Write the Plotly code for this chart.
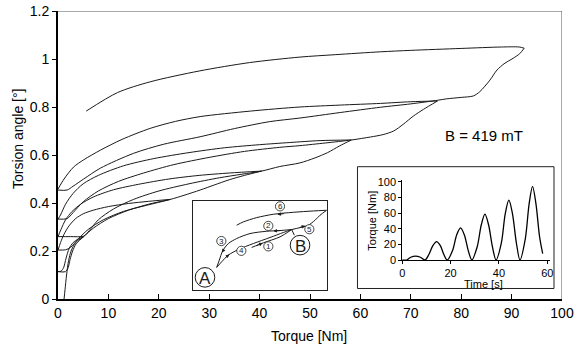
import plotly.graph_objects as go

# ---------------- torsion angle vs torque: loading / unloading branches ----------------
# loading branches (torque rising)
load1_x = [1.2, 1.4, 1.7, 2.1, 2.6, 3.5, 5.1]
load1_y = [0.0, 0.04, 0.10, 0.16, 0.20, 0.235, 0.26]
load2_x = [0, 1.5, 2.0, 2.4, 2.9, 3.6, 5.1, 7, 10, 14, 18, 22.3]
load2_y = [0.114, 0.114, 0.13, 0.165, 0.20, 0.23, 0.26, 0.295, 0.335, 0.37, 0.395, 0.415]
load3_x = [0, 1.5, 2.5, 4, 6, 9, 13, 17.5, 22.3, 25, 28.2, 31, 34, 37, 40.4]
load3_y = [0.204, 0.205, 0.215, 0.25, 0.29, 0.33, 0.365, 0.39, 0.415, 0.432, 0.454, 0.475, 0.497, 0.515, 0.533]
load4_x = [0, 2.5, 5.1, 6.2, 8, 11, 15, 20, 26, 32, 36.5, 40.4, 44, 48, 51, 53.5, 55.8, 58.2]
load4_y = [0.26, 0.26, 0.262, 0.285, 0.33, 0.375, 0.415, 0.45, 0.48, 0.505, 0.52, 0.533, 0.552, 0.567, 0.588, 0.61, 0.637, 0.6625]
load5_x = [0, 1.8, 3, 5, 8, 12, 17, 23, 30, 37, 44, 48, 53, 58.2, 62, 64.5, 66.6, 68.5, 70.5, 72.5, 75.3]
load5_y = [0.333, 0.335, 0.36, 0.405, 0.45, 0.49, 0.525, 0.56, 0.59, 0.615, 0.632, 0.639, 0.65, 0.6625, 0.675, 0.685, 0.70, 0.728, 0.762, 0.79, 0.825]
load6_x = [0, 1.8, 3, 5.1, 8.4, 15, 21, 28.2, 35, 42, 48, 56, 64, 70, 75.3, 77.1, 80, 82.4, 83.7, 85.7, 87.1, 88.5, 90.3, 91.6, 92.5]
load6_y = [0.454, 0.454, 0.47, 0.50, 0.545, 0.607, 0.645, 0.676, 0.71, 0.739, 0.754, 0.777, 0.799, 0.813, 0.828, 0.834, 0.84, 0.846, 0.864, 0.912, 0.954, 0.98, 1.003, 1.022, 1.045]

# unloading branches (torque falling)
unload1_x = [5.1, 4.0, 3.0, 2.2, 1.6, 1.1, 0.6, 0.0]
unload1_y = [0.26, 0.25, 0.235, 0.21, 0.17, 0.13, 0.116, 0.114]
unload2_x = [22.3, 18, 14, 10, 7, 5, 3.5, 2.2, 1.2, 0.5, 0]
unload2_y = [0.415, 0.407, 0.398, 0.385, 0.37, 0.355, 0.335, 0.305, 0.27, 0.235, 0.204]
unload3_x = [40.4, 34, 28, 22, 16, 11, 7, 4.5, 2.8, 1.5, 0.6, 0]
unload3_y = [0.533, 0.525, 0.515, 0.5, 0.478, 0.455, 0.425, 0.395, 0.365, 0.33, 0.29, 0.26]
unload4_x = [58.2, 52, 46, 40, 33, 26, 19, 13, 8, 5, 3, 1.5, 0.5, 0]
unload4_y = [0.6625, 0.66, 0.652, 0.643, 0.63, 0.61, 0.585, 0.555, 0.515, 0.48, 0.44, 0.395, 0.35, 0.333]
unload5_x = [75.3, 70, 64, 56, 48, 38.2, 28.2, 23.3, 18.3, 12.7, 8.4, 5.1, 3.1, 1.2, 0]
unload5_y = [0.825, 0.822, 0.815, 0.808, 0.80, 0.783, 0.76, 0.74, 0.711, 0.665, 0.62, 0.58, 0.55, 0.50, 0.458]
unload6_x = [92.5, 91.5, 88, 80, 70, 64, 55, 48, 38, 28, 18.3, 11.8, 5.6]
unload6_y = [1.045, 1.05, 1.05, 1.044, 1.036, 1.03, 1.018, 1.008, 0.985, 0.95, 0.905, 0.86, 0.783]

branches = [
    (load1_x, load1_y), (unload1_x, unload1_y),
    (load2_x, load2_y), (unload2_x, unload2_y),
    (load3_x, load3_y), (unload3_x, unload3_y),
    (load4_x, load4_y), (unload4_x, unload4_y),
    (load5_x, load5_y), (unload5_x, unload5_y),
    (load6_x, load6_y), (unload6_x, unload6_y),
]

# ---------------- torque history (inset) ----------------
time_s = [0, 1.8, 3.5, 5.5, 7.5, 9.4,
          11.0, 12.6, 14.2, 15.8, 17.2, 18.6,
          20.8, 22.5, 24.1, 25.7, 27.3, 28.8,
          31.0, 32.7, 34.2, 35.7, 37.3, 38.8,
          41.0, 42.6, 44.1, 45.6, 47.2, 48.7,
          50.9, 52.5, 53.9, 55.3, 56.8, 58.1]
torque_nm = [0, 0, 3.5, 5, 3.5, 0,
             7, 18, 23.4, 18, 7, 0,
             12, 32, 41, 32, 12, 0,
             17, 45, 58.5, 45, 17, 0,
             22, 59, 76.5, 59, 22, 0,
             27, 72, 94, 72, 30, 8]

# ---------------- schematic of the load sequence (inset, unit coordinates) ----------------
sk_upper_u = [0.175, 0.195, 0.22, 0.2625, 0.325, 0.425, 0.55, 0.65, 0.7375]
sk_upper_v = [0.254, 0.336, 0.44, 0.522, 0.578, 0.634, 0.66, 0.668, 0.679]
sk_lower_u = [0.175, 0.2125, 0.2625, 0.3375, 0.45, 0.575, 0.675, 0.7375]
sk_lower_v = [0.254, 0.317, 0.392, 0.455, 0.522, 0.59, 0.646, 0.679]
sk_first_u = [0.4375, 0.525, 0.65, 0.7375]
sk_first_v = [0.478, 0.53, 0.597, 0.679]
sk_rise_u = [0.7375, 0.8, 0.8625, 0.9125, 0.95, 1.0]
sk_rise_v = [0.679, 0.701, 0.728, 0.784, 0.84, 0.896]
sk_back_u = [1.0, 0.9, 0.75, 0.6, 0.475, 0.375, 0.325]
sk_back_v = [0.896, 0.888, 0.873, 0.851, 0.813, 0.765, 0.728]
sk_link_u = [0.7375, 0.7575]
sk_link_v = [0.679, 0.616]
step_labels = ["1", "2", "3", "4", "5", "6"]
step_u = [0.5625, 0.5625, 0.21, 0.36, 0.87, 0.65]
step_v = [0.49, 0.72, 0.55, 0.44, 0.683, 0.94]
# arrow (tail -> head) on each step of the sequence
arrow_tail_u = [0.46, 0.66, 0.235, 0.23, 0.79, 0.69]
arrow_tail_v = [0.49, 0.668, 0.47, 0.35, 0.70, 0.86]
arrow_head_u = [0.52, 0.60, 0.215, 0.27, 0.84, 0.63]
arrow_head_v = [0.527, 0.664, 0.42, 0.40, 0.72, 0.848]
point_labels = ["A", "B"]
point_u = [0.0875, 0.8]
point_v = [0.142, 0.504]

FONT = "Liberation Sans, Arial, sans-serif"
INK = "#1a1a1a"

fig = go.Figure()

for bx, by in branches:
    fig.add_trace(go.Scatter(x=bx, y=by, mode="lines",
                             line=dict(color=INK, width=1, shape="spline", smoothing=0.8),
                             hoverinfo="skip", showlegend=False))

for su, sv in [(sk_upper_u, sk_upper_v), (sk_lower_u, sk_lower_v), (sk_first_u, sk_first_v),
               (sk_rise_u, sk_rise_v), (sk_back_u, sk_back_v), (sk_link_u, sk_link_v)]:
    fig.add_trace(go.Scatter(x=su, y=sv, xaxis="x3", yaxis="y3", mode="lines",
                             line=dict(color=INK, width=1, shape="spline", smoothing=0.8),
                             hoverinfo="skip", showlegend=False))

fig.add_trace(go.Scatter(x=time_s, y=torque_nm, xaxis="x4", yaxis="y4", mode="lines",
                         line=dict(color="black", width=1.3, shape="spline", smoothing=0.9),
                         hoverinfo="skip", showlegend=False))

# pixel size of the main plot area and of the schematic inset (for round circles)
PW, PH = 504, 288
s_dom_x = [0.2685, 0.5331]
s_dom_y = [0.03125, 0.3403]
s_w = (s_dom_x[1] - s_dom_x[0]) * PW
s_h = (s_dom_y[1] - s_dom_y[0]) * PH

shapes = []
annotations = []

# thin top / right frame of the main plot
shapes.append(dict(type="line", xref="x", yref="y", x0=0, x1=100, y0=1.2, y1=1.2,
                   line=dict(color="#555", width=1)))
shapes.append(dict(type="line", xref="x", yref="y", x0=100, x1=100, y0=0, y1=1.2,
                   line=dict(color="#555", width=1)))

# frame around the torque-history inset
shapes.append(dict(type="rect", xref="paper", yref="paper", x0=0.5942, x1=0.9841, y0=0.0365, y1=0.4594,
                   line=dict(color="#222", width=1), fillcolor="rgba(0,0,0,0)"))

# circled step numbers
r_small = 4.6
for lab, u, v in zip(step_labels, step_u, step_v):
    du, dv = r_small / s_w, r_small / s_h
    shapes.append(dict(type="circle", xref="x3", yref="y3", x0=u - du, x1=u + du, y0=v - dv, y1=v + dv,
                       line=dict(color=INK, width=0.8), fillcolor="white"))
    annotations.append(dict(x=u, y=v, xref="x3", yref="y3", text=lab, showarrow=False,
                            xanchor="center", yanchor="middle",
                            font=dict(family=FONT, size=8, color=INK)))

# circled points A and B
r_big = 9.8
for lab, u, v in zip(point_labels, point_u, point_v):
    du, dv = r_big / s_w, r_big / s_h
    shapes.append(dict(type="circle", xref="x3", yref="y3", x0=u - du, x1=u + du, y0=v - dv, y1=v + dv,
                       line=dict(color=INK, width=1), fillcolor="white"))
    annotations.append(dict(x=u, y=v - 0.01, xref="x3", yref="y3", text=lab, showarrow=False,
                            xanchor="center", yanchor="middle",
                            font=dict(family=FONT, size=17, color=INK)))

for tu, tv, hu, hv in zip(arrow_tail_u, arrow_tail_v, arrow_head_u, arrow_head_v):
    annotations.append(dict(x=hu, y=hv, ax=tu, ay=tv, xref="x3", yref="y3", axref="x3", ayref="y3",
                            text="", showarrow=True, arrowhead=2, arrowsize=0.8, arrowwidth=0.9,
                            arrowcolor=INK))

annotations.append(dict(x=84.5, y=0.683, xref="x", yref="y", text="B = 419 mT", showarrow=False,
                        xanchor="center", yanchor="middle",
                        font=dict(family=FONT, size=15, color="black")))

# axis titles
annotations.append(dict(x=-0.079, y=0.556, xref="paper", yref="paper", text="Torsion angle [°]",
                        textangle=-90, showarrow=False, xanchor="center", yanchor="middle",
                        font=dict(family=FONT, size=14, color="black")))
annotations.append(dict(x=0.498, y=-0.128, xref="paper", yref="paper", text="Torque [Nm]",
                        showarrow=False, xanchor="center", yanchor="middle",
                        font=dict(family=FONT, size=14, color="black")))
annotations.append(dict(x=0.8434, y=0.0538, xref="paper", yref="paper", text="Time [s]",
                        showarrow=False, xanchor="center", yanchor="middle",
                        font=dict(family=FONT, size=11, color="black")))
annotations.append(dict(x=0.6224, y=0.2708, xref="paper", yref="paper", text="Torque [Nm]",
                        textangle=-90, showarrow=False, xanchor="center", yanchor="middle",
                        font=dict(family=FONT, size=11, color="black")))

fig.update_layout(
    template="none",
    width=587, height=347,
    margin=dict(l=58, r=25, t=11, b=48, pad=0),
    paper_bgcolor="white", plot_bgcolor="white",
    font=dict(family=FONT, color="black"),
    showlegend=False,
    xaxis=dict(range=[0, 100], dtick=10, showline=True, linecolor="black", linewidth=2,
               ticks="inside", ticklen=5, tickcolor="black", tickwidth=1, automargin=False,
               showgrid=False, zeroline=False, tickfont=dict(size=14)),
    yaxis=dict(range=[0, 1.2], dtick=0.2, showline=True, linecolor="black", linewidth=2,
               ticks="outside", ticklen=4, tickcolor="black", tickwidth=1, automargin=False,
               showgrid=False, zeroline=False, tickfont=dict(size=14)),
    xaxis3=dict(domain=s_dom_x, anchor="y3", range=[0, 1], showline=True, mirror=True,
                linecolor="#222", linewidth=1, showticklabels=False, ticks="", automargin=False,
                showgrid=False, zeroline=False),
    yaxis3=dict(domain=s_dom_y, anchor="x3", range=[0, 1], showline=True, mirror=True,
                linecolor="#222", linewidth=1, showticklabels=False, ticks="", automargin=False,
                showgrid=False, zeroline=False),
    xaxis4=dict(domain=[0.6831, 0.9756], anchor="y4", range=[0, 61], tickvals=[0, 20, 40, 60],
                showline=True, linecolor="black", linewidth=1, ticks="outside", ticklen=3,
                tickcolor="black", showgrid=False, zeroline=False, automargin=False,
                tickfont=dict(size=11)),
    yaxis4=dict(domain=[0.1354, 0.4128], anchor="x4", range=[0, 102],
                tickvals=[0, 20, 40, 60, 80, 100],
                showline=True, linecolor="black", linewidth=1, ticks="outside", ticklen=3,
                tickcolor="black", showgrid=False, zeroline=False, automargin=False,
                tickfont=dict(size=11)),
    shapes=shapes,
    annotations=annotations,
)

fig.write_html("out.html")
